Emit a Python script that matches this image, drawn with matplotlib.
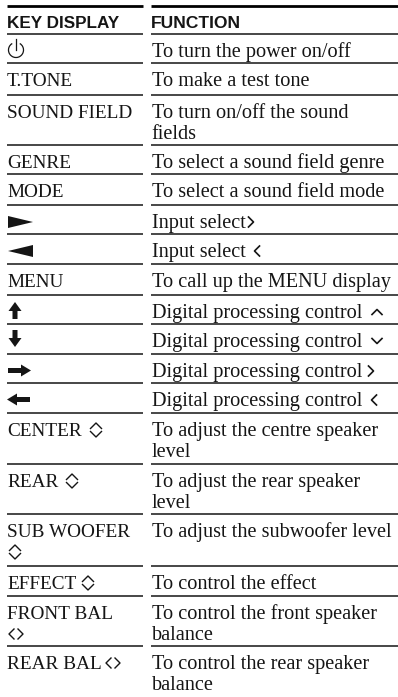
import matplotlib
matplotlib.use("Agg")
import matplotlib.pyplot as plt
from matplotlib.patches import Polygon, Arc

SERIF = ["Liberation Serif", "DejaVu Sans"]
INK = "#151515"

keys = ["", "T.TONE", "SOUND FIELD", "GENRE", "MODE", "", "", "MENU", "", "", "", "",
        "CENTER", "REAR", "SUB WOOFER", "EFFECT", "FRONT BAL", "REAR BAL"]
functions = ["To turn the power on/off", "To make a test tone",
             "To turn on/off the sound\nfields", "To select a sound field genre",
             "To select a sound field mode", "Input select", "Input select",
             "To call up the MENU display", "Digital processing control",
             "Digital processing control", "Digital processing control",
             "Digital processing control", "To adjust the centre speaker\nlevel",
             "To adjust the rear speaker\nlevel", "To adjust the subwoofer level",
             "To control the effect", "To control the front speaker\nbalance",
             "To control the rear speaker\nbalance"]
# key column symbol, its x centre/left and the text line it sits on
icons = ["power", None, None, None, None, "play", "back", None, "up", "down", "right", "left",
         "updown", "updown", "updown", "updown", "leftright", "leftright"]
icon_x = [16, 0, 0, 0, 0, 8, 8, 0, 15, 15, 19, 19, 96, 72, 15, 88, 16, 113]
icon_line = [0, 0, 0, 0, 0, 0, 0, 0, 0, 0, 0, 0, 0, 0, 1, 0, 1, 0]
# chevron after the function text
chevrons = [None, None, None, None, None, ">", "<", None, "^", "v", ">", "<",
            None, None, None, None, None, None]
chevron_x = [0, 0, 0, 0, 0, 251, 257, 0, 377, 377, 371, 374, 0, 0, 0, 0, 0, 0]
rules = [34, 63, 95, 145, 174, 205, 234, 264, 295, 324, 354, 383, 413, 464, 514, 566, 596, 646]

fig = plt.figure(figsize=(3.98, 6.97), dpi=100)
ax = fig.add_axes([0, 0, 1, 1])
ax.set_xlim(0, 398)
ax.set_ylim(697, 0)
ax.axis("off")

LEFT = (7, 143)
RIGHT = (151, 398)
LINE_H = 21


def rule(y, lw, color=INK):
    ax.plot(LEFT, [y, y], color=color, lw=lw, solid_capstyle="butt")
    ax.plot(RIGHT, [y, y], color=color, lw=lw, solid_capstyle="butt")


def draw_chevron(kind, x, mid):
    if kind == ">":
        xs, ys = [x - 2.5, x + 2.5, x - 2.5], [mid - 5, mid, mid + 5]
    elif kind == "<":
        xs, ys = [x + 2.5, x - 2.5, x + 2.5], [mid - 5, mid, mid + 5]
    elif kind == "^":
        xs, ys = [x - 5, x, x + 5], [mid + 2.5, mid - 2.5, mid + 2.5]
    else:
        xs, ys = [x - 5, x, x + 5], [mid - 2.5, mid + 2.5, mid - 2.5]
    ax.plot(xs, ys, color=INK, lw=1.2)


def draw_icon(name, x, base):
    if name == "power":
        ax.add_patch(Arc((x, base - 7), 15, 15, theta1=-60, theta2=240, color=INK, lw=0.9))
        ax.plot([x, x], [base - 18, base - 7], color=INK, lw=0.9)
    elif name == "play":
        ax.add_patch(Polygon([(x, base - 12), (x + 25, base - 6), (x, base)], color=INK, lw=0))
    elif name == "back":
        ax.add_patch(Polygon([(x + 25, base - 12), (x, base - 6), (x + 25, base)], color=INK, lw=0))
    elif name in ("up", "down"):
        s = 1 if name == "up" else -1
        tip = base - 16 if name == "up" else base
        ax.add_patch(Polygon([(x, tip), (x + 6.5, tip + 9 * s), (x + 2.5, tip + 9 * s),
                              (x + 2.5, tip + 17 * s), (x - 2.5, tip + 17 * s),
                              (x - 2.5, tip + 9 * s), (x - 6.5, tip + 9 * s)], color=INK, lw=0))
    elif name in ("right", "left"):
        s = 1 if name == "right" else -1
        tip = x + 12 * s
        mid = base - 6.5
        ax.add_patch(Polygon([(tip, mid), (tip - 10 * s, mid - 6), (tip - 10 * s, mid - 2.5),
                              (tip - 23 * s, mid - 2.5), (tip - 23 * s, mid + 2.5),
                              (tip - 10 * s, mid + 2.5), (tip - 10 * s, mid + 6)], color=INK, lw=0))
    elif name == "updown":
        mid = base - 6
        ax.plot([x - 5.5, x, x + 5.5], [mid - 1.5, mid - 7, mid - 1.5], color=INK, lw=1.0)
        ax.plot([x - 5.5, x, x + 5.5], [mid + 1.5, mid + 7, mid + 1.5], color=INK, lw=1.0)
    elif name == "leftright":
        mid = base - 6
        ax.plot([x - 2, x - 7, x - 2], [mid - 5, mid, mid + 5], color=INK, lw=1.0)
        ax.plot([x + 2, x + 7, x + 2], [mid - 5, mid, mid + 5], color=INK, lw=1.0)


rule(6, 2.0, "black")
ax.text(7, 28, "KEY DISPLAY", family="Liberation Sans", weight="bold", fontsize=12.3, color=INK, va="baseline")
ax.text(151, 28, "FUNCTION", family="Liberation Sans", weight="bold", fontsize=12.6, color=INK, va="baseline")

for i in range(len(keys)):
    rule(rules[i], 1.1)
    base = rules[i] + 23
    ax.text(7, base, keys[i], family=SERIF, fontsize=13.9, color=INK, va="baseline")
    for j, line in enumerate(functions[i].split("\n")):
        ax.text(151.5, base + j * LINE_H, line, family=SERIF, fontsize=14.6, color=INK, va="baseline")
    if icons[i]:
        draw_icon(icons[i], icon_x[i], base + icon_line[i] * LINE_H)
    if chevrons[i]:
        draw_chevron(chevrons[i], chevron_x[i], base - 6)

fig.savefig("out.png", dpi=100)
